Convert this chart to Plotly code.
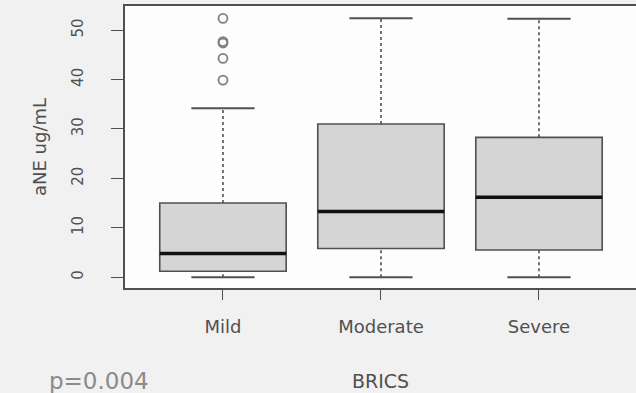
import plotly.graph_objects as go

categories = ["Mild", "Moderate", "Severe"]
lower_fence = [0.0, 0.0, 0.0]
q1 = [1.2, 5.8, 5.5]
median = [4.8, 13.3, 16.2]
q3 = [15.0, 31.0, 28.3]
upper_fence = [34.2, 52.4, 52.3]
outlier_cat = ["Mild", "Mild", "Mild", "Mild", "Mild"]
outlier_val = [52.4, 47.7, 47.4, 44.3, 39.9]
y_ticks = [0, 10, 20, 30, 40, 50]

pos = {c: i + 1 for i, c in enumerate(categories)}
xs = [pos[c] for c in categories]
BOXW = 0.8
CAPW = BOXW / 4
DARK = "#505050"
FONT = "DejaVu Sans"

fig = go.Figure()

# whiskers (dashed) and caps
for x, lf, a, b, uf in zip(xs, lower_fence, q1, q3, upper_fence):
    fig.add_trace(go.Scatter(x=[x, x], y=[b, uf], mode="lines",
                             line=dict(color=DARK, width=1.6, dash="dot"),
                             showlegend=False, hoverinfo="skip"))
    fig.add_trace(go.Scatter(x=[x, x], y=[lf, a], mode="lines",
                             line=dict(color=DARK, width=1.6, dash="dot"),
                             showlegend=False, hoverinfo="skip"))
    for v in (lf, uf):
        fig.add_trace(go.Scatter(x=[x - CAPW, x + CAPW], y=[v, v], mode="lines",
                                 line=dict(color=DARK, width=2),
                                 showlegend=False, hoverinfo="skip"))

# boxes
for x, a, m, b in zip(xs, q1, median, q3):
    fig.add_trace(go.Box(x=[x], q1=[a], median=[m], q3=[b],
                         lowerfence=[a], upperfence=[b],
                         width=BOXW, whiskerwidth=0,
                         fillcolor="#d5d5d5",
                         line=dict(color=DARK, width=1.6),
                         showlegend=False, hoverinfo="skip", boxpoints=False))

# medians
for x, m in zip(xs, median):
    fig.add_trace(go.Scatter(x=[x - BOXW / 2, x + BOXW / 2], y=[m, m], mode="lines",
                             line=dict(color="#111111", width=3.5),
                             showlegend=False, hoverinfo="skip"))

# outliers
fig.add_trace(go.Scatter(x=[pos[c] for c in outlier_cat], y=outlier_val, mode="markers",
                         marker=dict(symbol="circle-open", size=9,
                                     color="#808080", line=dict(width=1.8)),
                         showlegend=False, hoverinfo="skip"))

fig.add_annotation(text="p=0.004", xref="paper", yref="paper",
                   x=-0.153, y=-0.33, xanchor="left", yanchor="middle",
                   showarrow=False, font=dict(family=FONT, size=23, color="#8a8a8a"))

fig.update_layout(
    width=636, height=393,
    margin=dict(l=125, r=0, t=6, b=105),
    paper_bgcolor="#f1f1f1", plot_bgcolor="#fdfdfd",
    font=dict(family=FONT, color=DARK),
    xaxis=dict(range=[0.38, 3.614], tickmode="array", tickvals=xs, ticktext=categories,
               showline=True, linecolor=DARK, linewidth=1.6, mirror=True,
               ticks="outside", ticklen=10, tickcolor=DARK, tickwidth=1.4,
               showgrid=False, zeroline=False, ticklabelstandoff=12,
               tickfont=dict(size=18, color=DARK),
               title=dict(text="BRICS", font=dict(size=19, color=DARK), standoff=38)),
    yaxis=dict(range=[-2.2, 54.9], tickmode="array", tickvals=y_ticks,
               showline=True, linecolor=DARK, linewidth=1.6,
               ticks="outside", ticklen=12, tickcolor=DARK, tickwidth=1.4,
               tickangle=-90, showgrid=False, zeroline=False, ticklabelstandoff=22,
               tickfont=dict(size=15, color=DARK),
               title=dict(text="aNE ug/mL", font=dict(size=18, color=DARK), standoff=18)),
)

fig.write_html("out.html")
